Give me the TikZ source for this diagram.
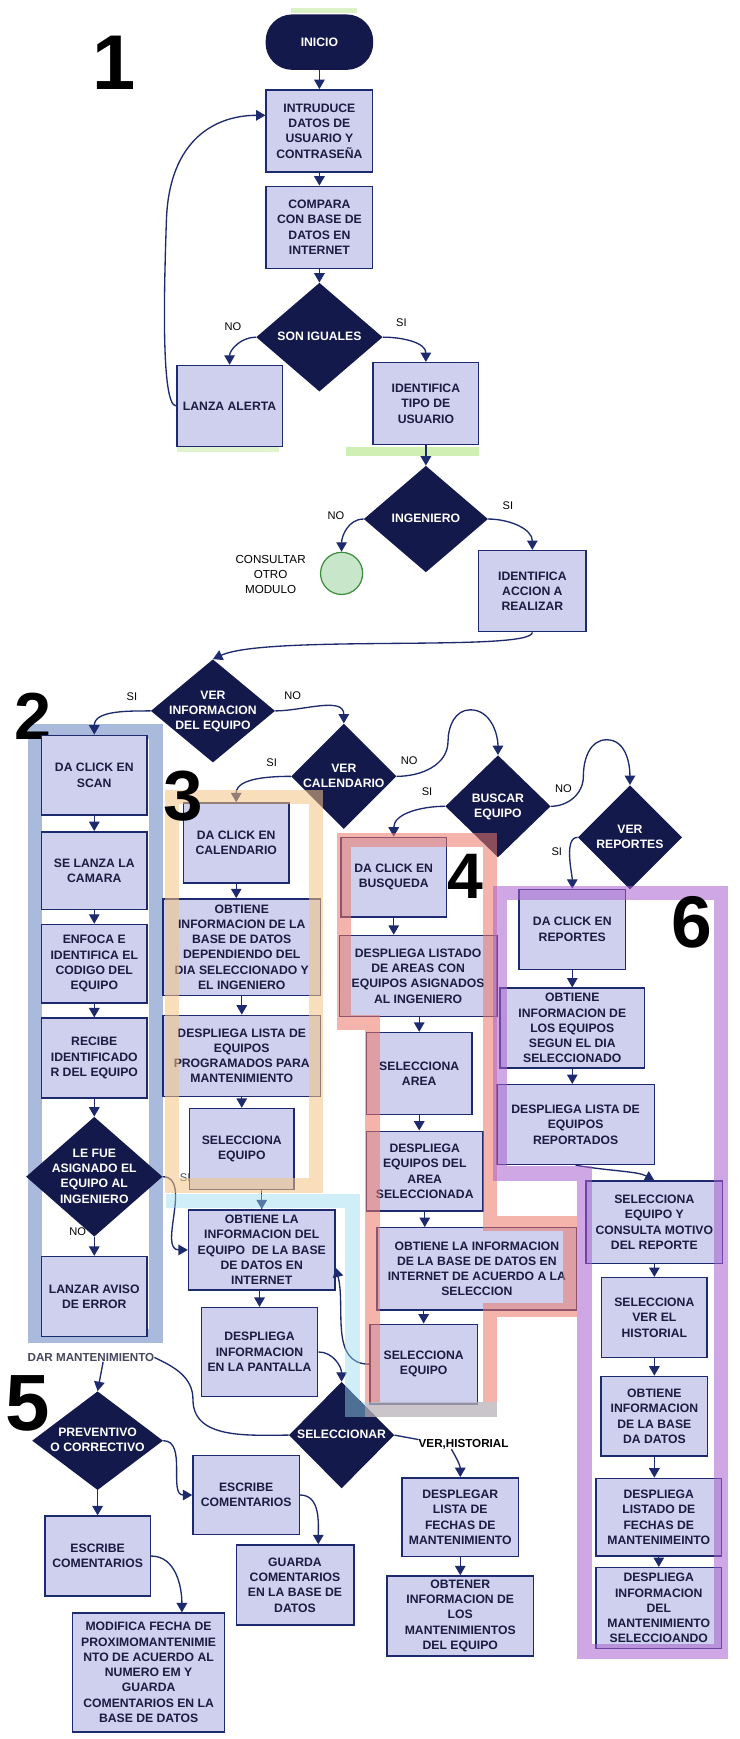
\documentclass[tikz,border=0pt]{standalone}
\usepackage{fontspec}
\setmainfont{Liberation Sans}
\usetikzlibrary{shapes.geometric,arrows.meta,calc}

\definecolor{navy}{RGB}{20,25,76}
\definecolor{edgeblue}{RGB}{30,42,110}
\definecolor{boxfill}{RGB}{206,208,238}
\definecolor{boxtext}{RGB}{26,28,66}
\definecolor{bandblue}{RGB}{170,186,220}
\definecolor{bandorange}{RGB}{244,196,130}
\definecolor{bandred}{RGB}{236,120,104}
\definecolor{bandpurple}{RGB}{168,96,206}
\definecolor{bandcyan}{RGB}{150,218,240}
\definecolor{termgreen}{RGB}{60,140,60}
\definecolor{termfill}{RGB}{200,230,201}
\definecolor{smudge}{RGB}{150,220,90}
\definecolor{graylbl}{RGB}{70,72,96}

\newcommand\bxfont{\fontsize{11}{13.8}\selectfont\bfseries}
\newcommand\lblfont{\fontsize{10}{13}\selectfont}
% diamond captions take no room, so the diamond keeps its given size
\newcommand\dtxt[1]{\makebox[0pt]{\raisebox{-0.28em}[0pt][0pt]{\begin{tabular}{@{}c@{}}#1\end{tabular}}}}

\tikzset{
  box/.style={draw=edgeblue, line width=1.3pt, fill=boxfill, text=boxtext,
    align=center, font=\bxfont, inner sep=1pt},
  bx/.style 2 args={box, minimum width=#1pt, minimum height=#2pt},
  dia/.style 2 args={diamond, fill=navy, text=white, font=\bxfont, inner sep=0pt,
    minimum width=#1pt, minimum height=#2pt},
  arr/.style={draw=edgeblue, line width=1.2pt, -{Triangle[width=9.5pt,length=8.5pt]}},
  ln/.style={draw=edgeblue, line width=1.2pt},
  lbl/.style={font=\lblfont, text=black, inner sep=0pt},
  band/.style={line width=13pt, line join=miter, opacity=0.55},
  bignum/.style={inner sep=0pt, text=black},
}

\begin{document}
\begin{tikzpicture}[x=1pt,y=1pt]
\useasboundingbox (0,0) rectangle (667,-1568);
\fill[white] (0,0) rectangle (667,-1568);

% frame of block 2 (behind its boxes)
\draw[line width=13pt, bandblue] (31.5,-659.5) rectangle (140.5,-1204.5);

% faint green marks
\fill[smudge, opacity=0.35] (262,-7) rectangle (322,-12);
\fill[smudge, opacity=0.3] (160,-403) rectangle (252,-408);
\fill[smudge, opacity=0.45] (312,-403) rectangle (432,-411);

% ---------- block 1 ----------
\node[bignum, font=\fontsize{70}{70}\selectfont\bfseries] (n1) at (103,-57) {1};
\node[rectangle, rounded corners=24pt, fill=navy, text=white, font=\bxfont,
  minimum width=97pt, minimum height=50pt] (inicio) at (288,-38) {INICIO};
\node[bx={96}{74}] (b1) at (288,-118) {INTRUDUCE\\DATOS DE\\USUARIO Y\\CONTRASEÑA};
\node[bx={96}{74}] (b2) at (288,-205) {COMPARA\\CON BASE DE\\DATOS EN\\INTERNET};
\node[dia={114}{98}] (d1) at (288,-304) {\dtxt{SON IGUALES}};
\node[bx={95}{73}] (b3) at (207,-366) {LANZA ALERTA};
\node[bx={95}{74}] (b4) at (384,-364) {IDENTIFICA\\TIPO DE\\USUARIO};
\node[dia={112}{96}] (d2) at (384,-468) {\dtxt{INGENIERO}};
\node[circle, draw=termgreen, fill=termfill, line width=1.1pt, minimum size=38pt,
  inner sep=0pt] (c1) at (308,-517) {};
\node[lbl, align=center, font=\fontsize{10.5}{13.5}\selectfont] (ct) at (244,-518) {CONSULTAR\\OTRO\\MODULO};
\node[bx={97}{73}] (b5) at (480,-533) {IDENTIFICA\\ACCION A\\REALIZAR};

\node[dia={112}{93}] (d3) at (192,-641) {\dtxt{VER\\INFORMACION\\DEL EQUIPO}};
\node[dia={95}{95}] (d4) at (310,-700) {\dtxt{VER\\CALENDARIO}};
\node[dia={95}{92}] (d5) at (449,-727) {\dtxt{BUSCAR\\EQUIPO}};
\node[dia={94}{94}] (d6) at (568,-755) {\dtxt{VER\\REPORTES}};

% ---------- block 2 ----------
\node[bignum, font=\fontsize{60}{60}\selectfont\bfseries] (n2) at (30,-646) {2};
\node[bx={95}{72}] (s1) at (85,-699) {DA CLICK EN\\SCAN};
\node[bx={95}{70}] (s2) at (85,-785) {SE LANZA LA\\CAMARA};
\node[bx={95}{71}] (s3) at (85,-869) {ENFOCA E\\IDENTIFICA EL\\CODIGO DEL\\EQUIPO};
\node[bx={95}{72}] (s4) at (85,-954) {RECIBE\\IDENTIFICADO\\R DEL EQUIPO};
\node[dia={123}{108}] (d7) at (85,-1061) {\dtxt{LE FUE\\ASIGNADO EL\\EQUIPO AL\\INGENIERO}};
\node[bx={95}{72}] (s5) at (85,-1169) {LANZAR AVISO\\DE ERROR};

% ---------- block 3 ----------
\node[bx={95}{72}] (c3a) at (213,-760) {DA CLICK EN\\CALENDARIO};
\node[bx={142}{87}] (c3b) at (218,-854) {OBTIENE\\INFORMACION DE LA\\BASE DE DATOS\\DEPENDIENDO DEL\\DIA SELECCIONADO Y\\EL INGENIERO};
\node[bx={142}{73}] (c3c) at (218,-952) {DESPLIEGA LISTA DE\\EQUIPOS\\PROGRAMADOS PARA\\MANTENIMIENTO};
\node[bx={94}{73}] (c3d) at (218,-1036) {SELECCIONA\\EQUIPO};

% ---------- shared middle ----------
\node[bx={132}{72}] (m1) at (236,-1127) {OBTIENE LA\\INFORMACION DEL\\EQUIPO \ DE LA BASE\\DE DATOS EN\\INTERNET};
\node[bx={105}{80}] (m2) at (234,-1219) {DESPLIEGA\\INFORMACION\\EN LA PANTALLA};
\node[dia={95}{96}] (d8) at (308,-1294) {\dtxt{SELECCIONAR}};

% ---------- block 4 ----------
\node[bx={95}{72}] (r4a) at (355,-791) {DA CLICK EN\\BUSQUEDA};
\node[bx={142}{73}] (r4b) at (377,-880) {DESPLIEGA LISTADO\\DE AREAS CON\\EQUIPOS ASIGNADOS\\AL INGENIERO};
\node[bx={95}{74}] (r4c) at (378,-968) {SELECCIONA\\AREA};
\node[bx={105}{72}] (r4d) at (383,-1056) {DESPLIEGA\\EQUIPOS DEL\\AREA\\SELECCIONADA};
\node[bx={180}{74}] (r4e) at (430,-1144) {OBTIENE LA INFORMACION\\DE LA BASE DE DATOS EN\\INTERNET DE ACUERDO A LA\\SELECCION};
\node[bx={97}{72}] (r4f) at (382,-1230) {SELECCIONA\\EQUIPO};

% ---------- block 6 ----------
\node[bx={96}{72}] (r6a) at (516,-838) {DA CLICK EN\\REPORTES};
\node[bx={130}{72}] (r6b) at (516,-927) {OBTIENE\\INFORMACION DE\\LOS EQUIPOS\\SEGUN EL DIA\\SELECCIONADO};
\node[bx={142}{72}] (r6c) at (519,-1014) {DESPLIEGA LISTA DE\\EQUIPOS\\REPORTADOS};
\node[bx={123}{74}] (r6d) at (590,-1102) {SELECCIONA\\EQUIPO Y\\CONSULTA MOTIVO\\DEL REPORTE};
\node[bx={95}{72}] (r6e) at (590,-1188) {SELECCIONA\\VER EL\\HISTORIAL};
\node[bx={96}{72}] (r6f) at (590,-1277) {OBTIENE\\INFORMACION\\DE LA BASE\\DA DATOS};
\node[bx={113}{70}] (r6g) at (594,-1368) {DESPLIEGA\\LISTADO DE\\FECHAS DE\\MANTENIMEINTO};
\node[bx={113}{73}] (r6h) at (594,-1450) {DESPLIEGA\\INFORMACION\\DEL\\MANTENIMIENTO\\SELECCIOANDO};

% ---------- block 5 ----------
\node[lbl, font=\fontsize{10.5}{12}\selectfont\bfseries, text=graylbl] (dar) at (82,-1224) {DAR MANTENIMIENTO};
\node[bignum, font=\fontsize{72}{72}\selectfont\bfseries] (n5) at (25,-1265) {5};
\node[dia={118}{89}] (d9) at (88,-1299) {\dtxt{PREVENTIVO\\O CORRECTIVO}};
\node[bx={95}{72}] (p1) at (88,-1403) {ESCRIBE\\COMENTARIOS};
\node[bx={137}{107}] (p2) at (134,-1508) {MODIFICA FECHA DE\\PROXIMOMANTENIMIE\\NTO DE ACUERDO AL\\NUMERO EM Y\\GUARDA\\COMENTARIOS EN LA\\BASE DE DATOS};
\node[bx={96}{71}] (p3) at (222,-1348) {ESCRIBE\\COMENTARIOS};
\node[bx={106}{72}] (p4) at (266,-1429) {GUARDA\\COMENTARIOS\\EN LA BASE DE\\DATOS};

\node[lbl, font=\fontsize{10.5}{12}\selectfont\bfseries] (vh) at (418,-1302) {VER,HISTORIAL};
\node[bx={105}{71}] (h1) at (415,-1368) {DESPLEGAR\\LISTA DE\\FECHAS DE\\MANTENIMIENTO};
\node[bx={132}{72}] (h2) at (415,-1457) {OBTENER\\INFORMACION DE\\LOS\\MANTENIMIENTOS\\DEL EQUIPO};

% ---------- branch labels ----------
\node[lbl] (l1) at (210,-295) {NO};
\node[lbl] (l2) at (362,-291) {SI};
\node[lbl] (l3) at (303,-465) {NO};
\node[lbl] (l4) at (458,-456) {SI};
\node[lbl] (l5) at (119,-628) {SI};
\node[lbl] (l6) at (264,-627) {NO};
\node[lbl] (l7) at (245,-688) {SI};
\node[lbl] (l8) at (369,-686) {NO};
\node[lbl] (l9) at (385,-714) {SI};
\node[lbl] (l10) at (508,-711) {NO};
\node[lbl] (l11) at (502,-768) {SI};
\node[lbl] (l12) at (70,-1111) {NO};
\node[lbl, text=graylbl] (l13) at (167,-1062) {SI};

% ---------- connectors ----------
\draw[arr] (inicio) -- (b1);
\draw[arr] (b1) -- (b2);
\draw[arr] (b2) -- (d1);
\draw[arr] (d1.west) to[out=180,in=90] (b3.north);
\draw[arr] (d1.east) to[out=0,in=90] (b4.north);
\draw[arr] (b3.west) .. controls (145,-366) and (148,-260) .. (150,-200)
  .. controls (152,-125) and (195,-104) .. ([yshift=14pt]b1.west);
\draw[arr] (b4) -- (d2);
\draw[arr] (d2.west) to[out=180,in=90] (c1.north);
\draw[arr] (d2.east) to[out=0,in=90] (b5.north);
\draw[arr] (b5.south) .. controls (480,-588) and (240,-572) .. (d3.north);

\draw[arr] (d3.west) to[out=180,in=90] (s1.north);
\draw[arr] (d3.east) to[out=0,in=90] (d4.north);
\draw[arr] (d4.west) to[out=180,in=90] (c3a.north);
\draw[arr] (d4.east) to[out=0,in=-90] (404,-668) to[out=90,in=180] (424,-640)
  to[out=0,in=90] (d5.north);
\draw[arr] (d5.west) to[out=180,in=90] (r4a.north);
\draw[arr] (d5.east) to[out=0,in=-90] (526,-700) to[out=90,in=180] (547,-667)
  to[out=0,in=90] (d6.north);
\draw[arr] (d6.west) to[out=180,in=90,looseness=0.7] (r6a.north);

\draw[arr] (s1) -- (s2);
\draw[arr] (s2) -- (s3);
\draw[arr] (s3) -- (s4);
\draw[arr] (s4) -- (d7);
\draw[arr] (d7) -- (s5);
\draw[arr] (d7.east) to[out=0,in=180] (m1.west);

\draw[arr] (c3a.south) -- (c3a.south |- c3b.north);
\draw[arr] (c3b) -- (c3c);
\draw[arr] (c3c) -- (c3d);
\draw[arr] (m1.north |- c3d.south) -- (m1.north);
\draw[arr] (m2.north |- m1.south) -- (m2.north);
\draw[arr] (m2.east) to[out=0,in=90] (d8.north);

\draw[arr] (r4a.south) -- (r4a.south |- r4b.north);
\draw[arr] (r4c.north |- r4b.south) -- (r4c.north);
\draw[arr] (r4c.south) -- (r4c.south |- r4d.north);
\draw[arr] (r4d.south) -- (r4d.south |- r4e.north);
\draw[arr] (r4f.north |- r4e.south) -- (r4f.north);
\draw[arr] (r4f.west) to[out=180,in=-75] ([yshift=-16pt]m1.east);

\draw[arr] (r6a) -- (r6b);
\draw[arr] (r6b.south) -- (r6b.south |- r6c.north);
\draw[arr] (r6c.south) .. controls (550,-1056) and (575,-1056) .. (r6d.north);
\draw[arr] (r6d) -- (r6e);
\draw[arr] (r6e) -- (r6f);
\draw[arr] (r6f.south) -- (r6f.south |- r6g.north);
\draw[arr] (r6g) -- (r6h);

\draw[ln] (d8.west) to[out=180,in=-90] (174,-1262) to[out=90,in=-25] (dar.east);
\draw[arr] ([xshift=11pt]dar.south) -- (d9.north);
\draw[arr] (d9) -- (p1);
\draw[arr] (d9.east) to[out=0,in=180] (p3.west);
\draw[arr] (p1.east) to[out=0,in=90] ([xshift=30pt]p2.north);
\draw[arr] (p3.east) to[out=0,in=90] ([xshift=21pt]p4.north);
\draw[ln] (d8.east) -- ([yshift=4pt]vh.west);
\draw[arr] ([xshift=-11pt]vh.south) to[out=-60,in=90] (h1.north);
\draw[arr] (h1) -- (h2);

% ---------- translucent block frames ----------
\draw[band, bandorange] (155,-718.5) rectangle (285,-1069);
\draw[band, bandred] (310,-757.5) -- (442,-757.5) -- (442,-1103) -- (514,-1103)
  -- (514,-1181) -- (442,-1181) -- (442,-1271) -- (336,-1271) -- (336,-922)
  -- (310,-922) -- cycle;
\draw[band, bandpurple] (451,-805) -- (650,-805) -- (650,-1489) -- (527,-1489)
  -- (527,-1058) -- (451,-1058) -- cycle;
\draw[band, bandcyan, opacity=0.45] (150,-1083) -- (318,-1083) -- (318,-1271) -- (448,-1271);

% block numbers drawn above the frames
\node[bignum, font=\fontsize{64}{64}\selectfont\bfseries] (n3) at (165,-718) {3};
\node[bignum, font=\fontsize{58}{58}\selectfont\bfseries] (n4) at (420,-790) {4};
\node[bignum, font=\fontsize{66}{66}\selectfont\bfseries] (n6) at (624,-832) {6};
\end{tikzpicture}
\end{document}
